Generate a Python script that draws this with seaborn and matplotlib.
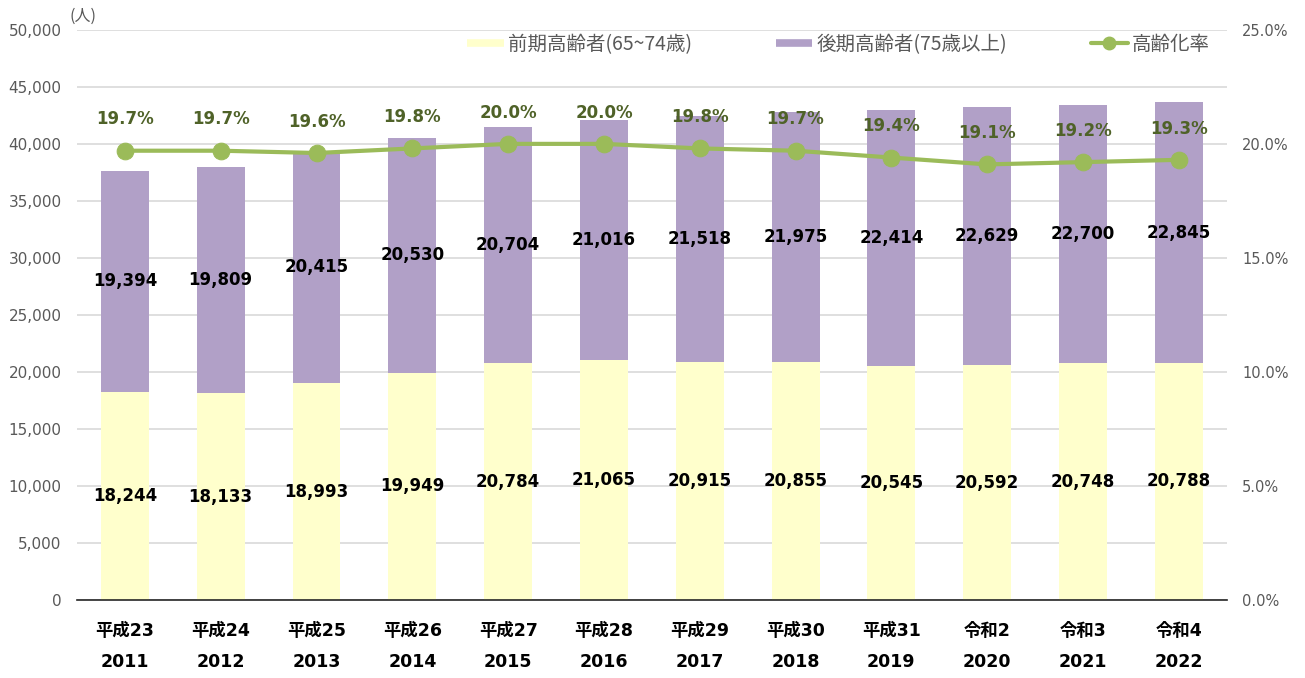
import matplotlib
matplotlib.use("Agg")
import matplotlib.pyplot as plt
from matplotlib.lines import Line2D
import seaborn as sns
import pandas as pd
import numpy as np

# data
era_labels = ['平成23', '平成24', '平成25', '平成26', '平成27', '平成28',
              '平成29', '平成30', '平成31', '令和2', '令和3', '令和4']
years = ['2011', '2012', '2013', '2014', '2015', '2016',
         '2017', '2018', '2019', '2020', '2021', '2022']
early_elderly = [18244, 18133, 18993, 19949, 20784, 21065,
                 20915, 20855, 20545, 20592, 20748, 20788]
late_elderly = [19394, 19809, 20415, 20530, 20704, 21016,
                21518, 21975, 22414, 22629, 22700, 22845]
aging_rate = [19.7, 19.7, 19.6, 19.8, 20.0, 20.0,
              19.8, 19.7, 19.4, 19.1, 19.2, 19.3]

YELLOW = '#FFFFCC'
PURPLE = '#B1A0C7'
GREEN = '#9BBB59'
DARK_GREEN = '#4F6228'
GRAY = '#595959'

sns.set_theme(style="white")
plt.rcParams['font.family'] = ['DejaVu Sans', 'Noto Sans CJK JP']

df = pd.DataFrame({
    'label': [f'{e}\n{y}' for e, y in zip(era_labels, years)],
    'early': early_elderly,
    'late': late_elderly,
})
df['total'] = df['early'] + df['late']

fig = plt.figure(figsize=(13.05, 6.78), dpi=100)
ax = fig.add_axes([0.059, 0.115, 0.881, 0.841])

# stacked bars: total in purple, early part in yellow on top
sns.barplot(data=df, x='label', y='total', color=PURPLE, width=0.5,
            saturation=1, linewidth=0, edgecolor='none', ax=ax, zorder=2)
sns.barplot(data=df, x='label', y='early', color=YELLOW, width=0.5,
            saturation=1, linewidth=0, edgecolor='none', ax=ax, zorder=2)

ax.set_ylim(0, 50000)
ax.set_xlim(-0.5, 11.5)
ax.set_yticks(np.arange(0, 50001, 5000))
ax.set_yticklabels([f'{v:,}' for v in range(0, 50001, 5000)])
ax.yaxis.grid(True, color='#D9D9D9', linewidth=1.2, zorder=0)
ax.set_axisbelow(True)
ax.set_xlabel('')
ax.set_ylabel('')
for s in ['top', 'right', 'left']:
    ax.spines[s].set_visible(False)
ax.spines['bottom'].set_color('#262626')
ax.spines['bottom'].set_linewidth(1.2)
ax.tick_params(axis='y', length=0, labelsize=11, labelcolor=GRAY, pad=11)
ax.tick_params(axis='x', length=0, pad=16, labelcolor='black')
for t in ax.get_xticklabels():
    t.set_fontsize(12.5)
    t.set_fontweight('bold')
    t.set_linespacing(1.9)

# value labels inside segments
for i, (e, l) in enumerate(zip(early_elderly, late_elderly)):
    ax.text(i, e / 2, f'{e:,}', ha='center', va='center',
            fontsize=12, fontweight='bold', color='black', zorder=5)
    ax.text(i, e + l / 2, f'{l:,}', ha='center', va='center',
            fontsize=12, fontweight='bold', color='black', zorder=5)

# aging rate line on secondary axis
ax2 = ax.twinx()
sns.lineplot(x=np.arange(len(aging_rate)), y=aging_rate, ax=ax2,
             color=GREEN, linewidth=3, marker='o', markersize=12,
             markeredgecolor=GREEN, zorder=4)
ax2.set_ylim(0, 25)
ax2.set_yticks(np.arange(0, 25.1, 5))
ax2.set_yticklabels([f'{v:.1f}%' for v in np.arange(0, 25.1, 5)])
ax2.tick_params(axis='y', length=0, labelsize=10.5, labelcolor=GRAY, pad=11)
ax2.grid(False)
for s in ax2.spines.values():
    s.set_visible(False)
for i, r in enumerate(aging_rate):
    ax2.annotate(f'{r:.1f}%', (i, r), xytext=(0, 22.5), textcoords='offset points',
                 ha='center', va='center', fontsize=12, fontweight='bold',
                 color=DARK_GREEN)

fig.text(0.053, 0.976, '(人)', fontsize=11.5, color=GRAY, ha='left', va='center',
         family=['Noto Sans CJK JP'])

handles = [
    Line2D([0], [0], color=YELLOW, linewidth=5.5, solid_capstyle='butt'),
    Line2D([0], [0], color=PURPLE, linewidth=5.5, solid_capstyle='butt'),
    Line2D([0], [0], color=GREEN, linewidth=3, marker='o', markersize=9),
]
names = ['前期高齢者(65~74歳)', '後期高齢者(75歳以上)', '高齢化率']
ax2.legend(handles, names, ncol=3, loc='center right',
           bbox_to_anchor=(0.985, 0.974), frameon=False,
           prop={'family': ['Noto Sans CJK JP'], 'size': 14},
           columnspacing=4.3, handlelength=1.9, handletextpad=0.2,
           borderpad=0, borderaxespad=0, labelcolor=GRAY)

fig.savefig('out.png', dpi=100)
